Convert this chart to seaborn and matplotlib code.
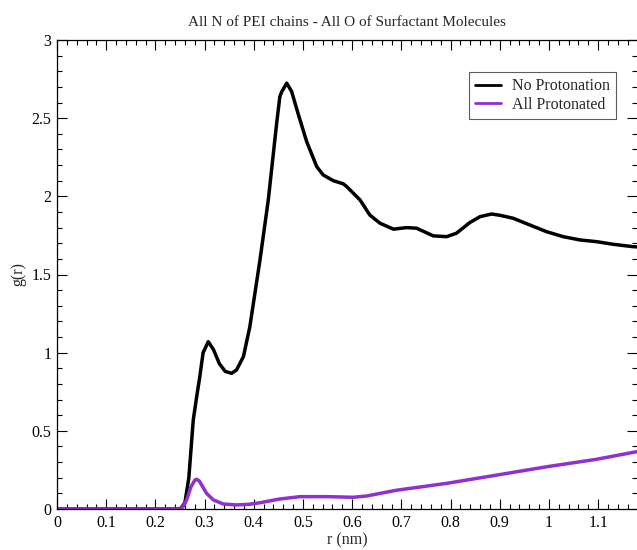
import matplotlib
matplotlib.use("Agg")
import matplotlib.pyplot as plt
from matplotlib.ticker import MultipleLocator
import seaborn as sns
import pandas as pd

# Radial distribution function g(r): PEI nitrogens vs surfactant oxygens
r_noprot = [0.0, 0.10, 0.20, 0.245, 0.252, 0.26, 0.268, 0.277, 0.284, 0.290, 0.297,
            0.3075, 0.318, 0.330, 0.342, 0.355, 0.365, 0.379, 0.392, 0.4126, 0.4295,
            0.4465, 0.453, 0.457, 0.467, 0.477, 0.490, 0.5075, 0.528, 0.541, 0.5617,
            0.582, 0.589, 0.616, 0.636, 0.6565, 0.684, 0.711, 0.731, 0.765, 0.792,
            0.812, 0.839, 0.860, 0.8835, 0.900, 0.927, 0.961, 0.995, 1.029, 1.063,
            1.097, 1.131, 1.171, 1.19]
g_noprot = [0.0, 0.0, 0.0, 0.0, 0.005, 0.04, 0.20, 0.57, 0.72, 0.84, 1.00,
            1.07, 1.02, 0.93, 0.88, 0.868, 0.89, 0.975, 1.166, 1.593, 1.977,
            2.467, 2.638, 2.67, 2.724, 2.67, 2.53, 2.35, 2.19, 2.137, 2.10,
            2.08, 2.062, 1.977, 1.88, 1.828, 1.79, 1.80, 1.796, 1.747, 1.742,
            1.764, 1.832, 1.87, 1.887, 1.879, 1.86, 1.817, 1.774, 1.742, 1.721,
            1.71, 1.693, 1.678, 1.675]

r_prot = [0.0, 0.10, 0.20, 0.25, 0.2565, 0.2635, 0.272, 0.2805, 0.284, 0.289, 0.294,
          0.304, 0.318, 0.338, 0.365, 0.39, 0.4126, 0.453, 0.494, 0.548, 0.602,
          0.629, 0.69, 0.792, 0.894, 0.995, 1.097, 1.179, 1.19]
g_prot = [0.0, 0.0, 0.0, 0.0, 0.015, 0.058, 0.14, 0.186, 0.19, 0.18, 0.154,
          0.10, 0.058, 0.032, 0.026, 0.03, 0.04, 0.064, 0.079, 0.079, 0.075,
          0.083, 0.12, 0.164, 0.217, 0.27, 0.318, 0.367, 0.372]

series_names = ["No Protonation", "All Protonated"]
series_colors = ["#000000", "#9030d0"]

df = pd.concat([
    pd.DataFrame({"r": r_noprot, "g": g_noprot, "series": series_names[0]}),
    pd.DataFrame({"r": r_prot, "g": g_prot, "series": series_names[1]}),
], ignore_index=True)

sns.set_theme(style="ticks")
plt.rcParams["font.family"] = ["Liberation Serif", "DejaVu Serif"]

fig = plt.figure(figsize=(6.37, 5.5), dpi=100)
ax = fig.add_axes([57 / 637, 41 / 550, 1 - 57 / 637, 469 / 550])

sns.lineplot(data=df, x="r", y="g", hue="series", hue_order=series_names,
             palette=series_colors, sort=False, estimator=None, linewidth=2.5,
             ax=ax, legend=True)

ax.set_xlim(0, 1.179)
ax.set_ylim(0, 3)
ax.xaxis.set_minor_locator(MultipleLocator(0.02))
ax.yaxis.set_minor_locator(MultipleLocator(0.1))
ax.set_xticks([0, 0.1, 0.2, 0.3, 0.4, 0.5, 0.6, 0.7, 0.8, 0.9, 1.0, 1.1])
ax.set_xticklabels(["0", "0.1", "0.2", "0.3", "0.4", "0.5", "0.6", "0.7",
                    "0.8", "0.9", "1", "1.1"])
ax.set_yticks([0, 0.5, 1, 1.5, 2, 2.5, 3])
ax.set_yticklabels(["0", "0.5", "1", "1.5", "2", "2.5", "3"])

ax.tick_params(which="both", direction="in", top=True, right=True,
               colors="black", labelsize=11.5, width=0.8)
ax.tick_params(which="major", length=7, pad=4)
ax.tick_params(which="minor", length=3.5)
for side in ["left", "bottom", "top"]:
    ax.spines[side].set_color("black")
    ax.spines[side].set_linewidth(0.9)
ax.spines["right"].set_visible(False)

ax.set_xlabel("r (nm)", fontsize=11.5, labelpad=1)
ax.set_ylabel("g(r)", fontsize=11.5, labelpad=4)
ax.set_title("All N of PEI chains - All O of Surfactant Molecules", fontsize=11, pad=10)

leg = ax.legend(loc="upper right", bbox_to_anchor=(0.964, 0.932), borderaxespad=0,
                fontsize=11.5, frameon=True, fancybox=False, handlelength=1.6,
                handletextpad=0.7, borderpad=0.4, labelspacing=0.15, title=None)
leg.get_frame().set_edgecolor("#333333")
leg.get_frame().set_linewidth(0.8)
for line in leg.get_lines():
    line.set_linewidth(2.0)

fig.savefig("out.png", dpi=100)
